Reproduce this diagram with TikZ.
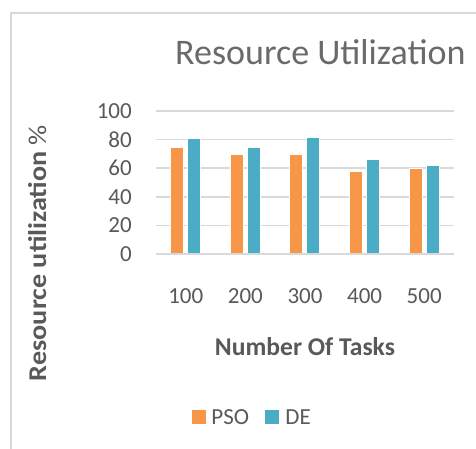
\documentclass[tikz,border=0pt]{standalone}
\usepackage{fontspec}
\setmainfont{Carlito}
\usetikzlibrary{positioning}
\definecolor{psoorange}{HTML}{F79646}
\definecolor{deblue}{HTML}{4BACC6}
\definecolor{gridgray}{HTML}{D9D9D9}
\definecolor{textgray}{HTML}{595959}
\tikzset{
    charttitle/.style={font=\fontsize{36}{36}\selectfont, text=textgray!90, inner sep=0pt},
    ticklabel/.style={font=\fontsize{23}{23}\selectfont, text=textgray, inner sep=0pt},
    axistitle/.style={font=\fontsize{25.6}{26}\selectfont\bfseries, text=textgray, inner sep=0pt},
    gridline/.style={draw=gridgray, line width=1.5pt},
    psobar/.style={fill=psoorange, draw=white, line width=0.4pt},
    debar/.style={fill=deblue, draw=white, line width=0.4pt},
    psokey/.style={fill=psoorange, minimum size=14pt, inner sep=0pt},
    dekey/.style={fill=deblue, minimum size=14pt, inner sep=0pt}
}

\begin{document}
\begin{tikzpicture}[x=1pt, y=-1pt]
    \useasboundingbox (0,0) rectangle (476,448);
    \fill[white] (0,0) rectangle (476,448);
    % chart frame, cut off at right and bottom
    \draw[gridgray, line width=2pt] (11,470) -- (11,13) -- (490,13);
    \node[charttitle, anchor=base west] (title) at (175,64) {Resource Utilization};

    % grid and value axis
    \foreach \v in {0,20,...,100} {
        \draw[gridline] (156,{254-1.43*\v}) -- (454,{254-1.43*\v});
        \node[ticklabel, anchor=east] (ytick\v) at (132,{254-1.43*\v}) {\v};
    }

    % bars
    \foreach \i/\p/\d in {1/75/81, 2/70/75, 3/70/82, 4/58/66, 5/60/62} {
        \pgfmathsetmacro\cx{156+59.6*(\i-0.5)}
        \filldraw[psobar] ({\cx-15.5},254) rectangle ({\cx-2.5},{254-1.43*\p});
        \filldraw[debar] ({\cx+1.5},254) rectangle ({\cx+14.5},{254-1.43*\d});
        \pgfmathtruncatemacro\n{100*\i}
        \node[ticklabel, anchor=base] (xtick\i) at (\cx,303) {\n};
    }
    \draw[gridline] (156,254) -- (454,254);

    \node[axistitle, anchor=base] (xtitle) at (305,355) {Number Of Tasks};
    \node[axistitle, rotate=90, xscale=1.1, anchor=base] (ytitle) at (46,253) {Resource utilization \textmd{\%}};

    % legend
    \node[psokey] (psokey) at (199,417) {};
    \node[ticklabel, right=5pt of psokey] (psolabel) {PSO};
    \node[dekey] (dekey) at (272,417) {};
    \node[ticklabel, right=6pt of dekey] (delabel) {DE};
\end{tikzpicture}
\end{document}
